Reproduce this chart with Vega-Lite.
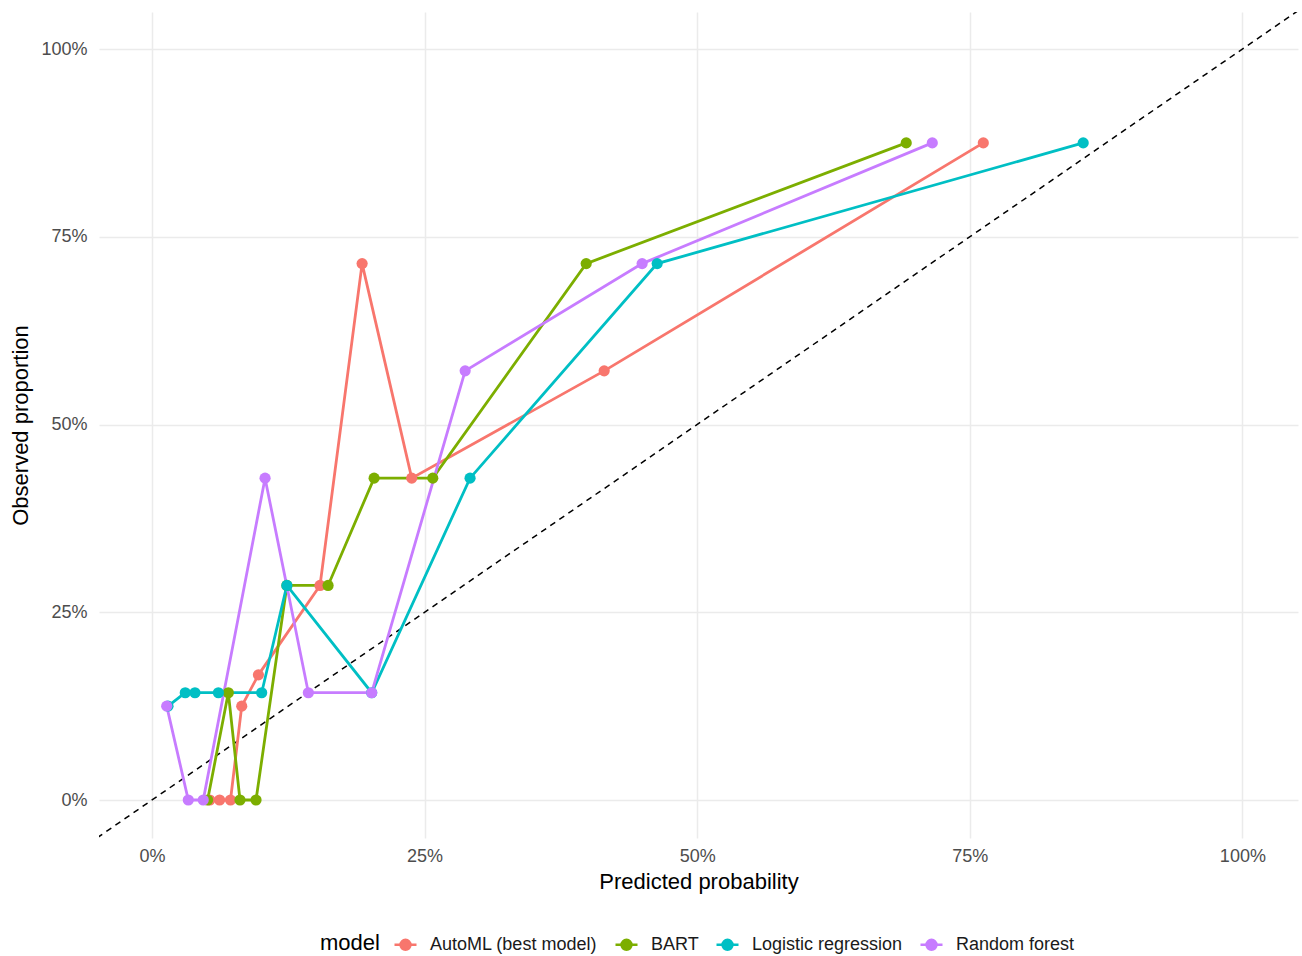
{
  "$schema": "https://vega.github.io/schema/vega-lite/v6.json",
  "width": 1199,
  "height": 826,
  "autosize": {"type": "none"},
  "padding": {"left": 99, "top": 12, "right": 4, "bottom": 118},
  "background": "white",
  "config": {
    "view": {"stroke": null},
    "font": "Liberation Sans",
    "axis": {
      "domain": false,
      "ticks": false,
      "grid": true,
      "gridColor": "#EBEBEB",
      "gridWidth": 1.5,
      "labelFont": "Liberation Sans",
      "labelFontSize": 18,
      "labelColor": "#4D4D4D",
      "titleFont": "Liberation Sans",
      "titleFontSize": 22,
      "titleFontWeight": "normal",
      "titleColor": "#000000"
    },
    "legend": {
      "labelFont": "Liberation Sans",
      "labelFontSize": 18,
      "labelColor": "#1A1A1A",
      "labelLimit": 400,
      "titleFont": "Liberation Sans",
      "titleFontSize": 22,
      "titleFontWeight": "normal",
      "titleColor": "#000000"
    }
  },
  "datasets": {
    "cal": [
      {"model": "AutoML (best model)", "pred": 0.053, "obs": 0},
      {"model": "AutoML (best model)", "pred": 0.062, "obs": 0},
      {"model": "AutoML (best model)", "pred": 0.072, "obs": 0},
      {"model": "AutoML (best model)", "pred": 0.0823, "obs": 0.125},
      {"model": "AutoML (best model)", "pred": 0.0976, "obs": 0.166667},
      {"model": "AutoML (best model)", "pred": 0.1541, "obs": 0.285714},
      {"model": "AutoML (best model)", "pred": 0.1927, "obs": 0.714286},
      {"model": "AutoML (best model)", "pred": 0.2382, "obs": 0.428571},
      {"model": "AutoML (best model)", "pred": 0.4147, "obs": 0.571429},
      {"model": "AutoML (best model)", "pred": 0.7624, "obs": 0.875},
      {"model": "BART", "pred": 0.051, "obs": 0},
      {"model": "BART", "pred": 0.0700, "obs": 0.142857},
      {"model": "BART", "pred": 0.0807, "obs": 0},
      {"model": "BART", "pred": 0.0954, "obs": 0},
      {"model": "BART", "pred": 0.1237, "obs": 0.285714},
      {"model": "BART", "pred": 0.1615, "obs": 0.285714},
      {"model": "BART", "pred": 0.2037, "obs": 0.428571},
      {"model": "BART", "pred": 0.2575, "obs": 0.428571},
      {"model": "BART", "pred": 0.3982, "obs": 0.714286},
      {"model": "BART", "pred": 0.6917, "obs": 0.875},
      {"model": "Logistic regression", "pred": 0.0147, "obs": 0.125},
      {"model": "Logistic regression", "pred": 0.0305, "obs": 0.142857},
      {"model": "Logistic regression", "pred": 0.0394, "obs": 0.142857},
      {"model": "Logistic regression", "pred": 0.0609, "obs": 0.142857},
      {"model": "Logistic regression", "pred": 0.1006, "obs": 0.142857},
      {"model": "Logistic regression", "pred": 0.1237, "obs": 0.285714},
      {"model": "Logistic regression", "pred": 0.2015, "obs": 0.142857},
      {"model": "Logistic regression", "pred": 0.2917, "obs": 0.428571},
      {"model": "Logistic regression", "pred": 0.4633, "obs": 0.714286},
      {"model": "Logistic regression", "pred": 0.854, "obs": 0.875},
      {"model": "Random forest", "pred": 0.0135, "obs": 0.125},
      {"model": "Random forest", "pred": 0.0333, "obs": 0},
      {"model": "Random forest", "pred": 0.047, "obs": 0},
      {"model": "Random forest", "pred": 0.1037, "obs": 0.428571},
      {"model": "Random forest", "pred": 0.1434, "obs": 0.142857},
      {"model": "Random forest", "pred": 0.2015, "obs": 0.142857},
      {"model": "Random forest", "pred": 0.2872, "obs": 0.571429},
      {"model": "Random forest", "pred": 0.4495, "obs": 0.714286},
      {"model": "Random forest", "pred": 0.7156, "obs": 0.875}
    ],
    "diag": [
      {"pred": -0.1, "obs": -0.1},
      {"pred": 1.1, "obs": 1.1}
    ]
  },
  "layer": [
    {
      "data": {"name": "diag"},
      "mark": {"type": "line", "color": "#000000", "strokeWidth": 1.5, "strokeDash": [6, 5], "clip": true},
      "encoding": {
        "x": {"field": "pred", "type": "quantitative", "scale": {"domain": [-0.0486, 1.051], "nice": false, "zero": false}, "axis": {"values": [0, 0.25, 0.5, 0.75, 1], "format": ".0%", "title": "Predicted probability", "labelPadding": 9, "titlePadding": 6}},
        "y": {"field": "obs", "type": "quantitative", "scale": {"domain": [-0.0506, 1.0493], "nice": false, "zero": false}, "axis": {"values": [0, 0.25, 0.5, 0.75, 1], "format": ".0%", "title": "Observed proportion", "labelPadding": 12, "titlePadding": 8}}
      }
    },
    {
      "data": {"name": "cal"},
      "mark": {"type": "line", "strokeWidth": 2.8, "clip": true},
      "encoding": {
        "x": {"field": "pred", "type": "quantitative"},
        "y": {"field": "obs", "type": "quantitative"},
        "color": {
          "field": "model",
          "type": "nominal",
          "scale": {"domain": ["AutoML (best model)", "BART", "Logistic regression", "Random forest"], "range": ["#F8766D", "#7CAE00", "#00BFC4", "#C77CFF"]},
          "legend": {
            "orient": "none",
            "legendX": 221,
            "legendY": 920,
            "direction": "horizontal",
            "title": "model",
            "titleOrient": "left",
            "titlePadding": 13,
            "symbolType": "M-1,0L1,0M-0.45,0A0.45,0.45 0 1,1 0.45,0A0.45,0.45 0 1,1 -0.45,0Z",
            "symbolSize": 484,
            "symbolStrokeWidth": 2.5,
            "labelOffset": 12,
            "columnPadding": 12
          }
        }
      }
    },
    {
      "data": {"name": "cal"},
      "mark": {"type": "point", "filled": true, "size": 125, "opacity": 1, "clip": true},
      "encoding": {
        "x": {"field": "pred", "type": "quantitative"},
        "y": {"field": "obs", "type": "quantitative"},
        "color": {"field": "model", "type": "nominal"}
      }
    }
  ]
}
